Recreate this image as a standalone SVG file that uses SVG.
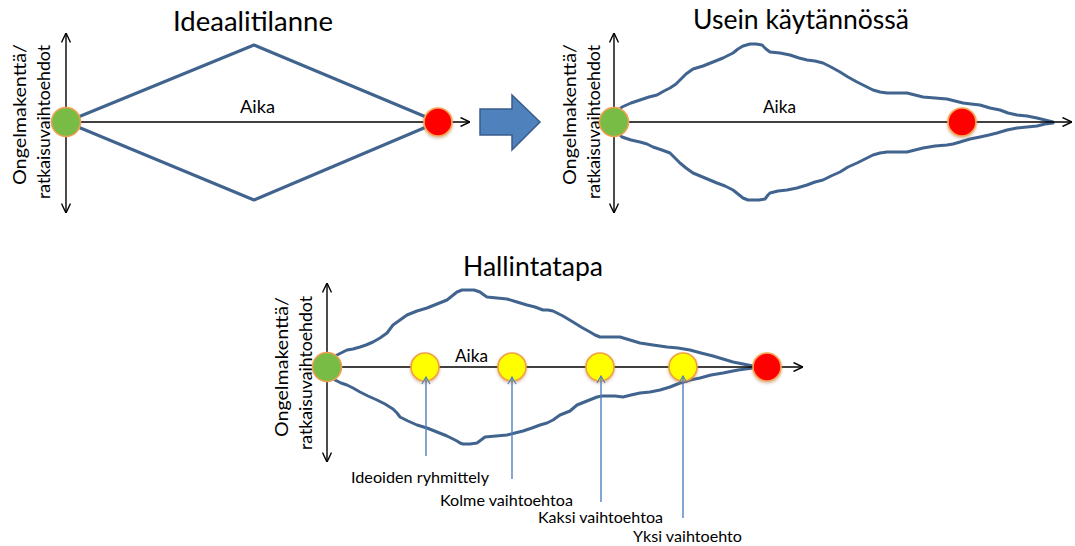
<svg xmlns="http://www.w3.org/2000/svg" width="1075" height="546" viewBox="0 0 1075 546">
  <defs>
    <style>
      text { font-family: Lato, "Open Sans", "Liberation Sans", sans-serif; fill: #000; }
      .title { font-size: 26px; }
      .aika { font-size: 17px; }
      .yaxis { font-size: 18px; }
      .lbl { font-size: 16px; }
      .axis { stroke: #000; stroke-width: 1.4; fill: none; }
      .funnel { stroke: #41648F; stroke-width: 3; fill: none; stroke-linejoin: round; stroke-linecap: round; }
      .pointer { stroke: #4F81BD; stroke-width: 1.4; fill: none; }
      .start { fill: #78BC45; stroke: #F0A050; stroke-width: 1.6; }
      .goal { fill: #FF0000; stroke: #F5A855; stroke-width: 1.6; filter: url(#soft); }
      .step { fill: #FFFF00; stroke: #F0A040; stroke-width: 1.6; filter: url(#soft); }
    </style>
    <marker id="open" viewBox="0 0 10 10" refX="10" refY="5" markerWidth="10" markerHeight="10" markerUnits="userSpaceOnUse" orient="auto-start-reverse">
      <path d="M0.5,0.5 L10,5 L0.5,9.5" fill="none" stroke="#000" stroke-width="1.4"/>
    </marker>
    <marker id="openBlue" viewBox="0 0 10 10" refX="5" refY="0.8" markerWidth="11" markerHeight="9" markerUnits="userSpaceOnUse" orient="0">
      <path d="M0.5,8.5 L5,0.8 L9.5,8.5" fill="none" stroke="#4F81BD" stroke-width="1.3"/>
    </marker>
    <filter id="soft" x="-40%" y="-40%" width="180%" height="180%">
      <feDropShadow dx="0" dy="1.5" stdDeviation="1.4" flood-color="#A06030" flood-opacity="0.45"/>
    </filter>
  </defs>

  <!-- Titles -->
  <text class="title" x="173" y="31" textLength="160" lengthAdjust="spacingAndGlyphs">Ideaalitilanne</text>
  <text class="title" x="693" y="29" textLength="216" lengthAdjust="spacingAndGlyphs">Usein käytännössä</text>
  <text class="title" x="463" y="276" textLength="140" lengthAdjust="spacingAndGlyphs">Hallintatapa</text>

  <!-- Funnel outlines -->
  <g id="funnels">
    <polygon class="funnel" points="66,122 254,45 438,122 254,200"/>
    <polyline class="funnel" points="618,111 622,107 631,103 640,100 649,97 657,95 664,91 670,88 676,84 680,80 686,74 693,69 703,66 713,62 723,58 733,53 738,49 743,46 750,44 756,44 762,45 766,49 770,52 780,53 790,55 799,58 807,60 815,61 823,63 831,67 840,72 848,77 857,82 865,86 873,90 880,92 887,93 897,93 907,93 915,95 923,97 935,98 947,99 955,101 963,103 971,104 980,105 990,108 1000,110 1008,113 1017,115 1027,116 1037,118 1045,120 1053,122"/>
    <polyline class="funnel" points="618,133 622,137 631,140 640,142 647,144 653,147 662,150 670,153 675,158 680,163 686,168 693,173 705,178 717,183 725,186 733,190 738,194 743,198 748,200 753,200 759,200 765,199 768,195 770,193 778,191 787,190 797,188 807,185 815,182 823,180 831,176 840,172 848,167 857,163 865,159 873,155 880,153 887,152 897,152 907,152 915,150 923,148 935,146 947,145 953,144 960,142 970,139 980,137 989,135 997,133 1007,130 1017,128 1027,127 1037,126 1045,124 1053,123"/>
    <polyline class="funnel" points="331,360 335,356 341,353 347,350 353,349 360,347 366,345 373,342 380,338 387,333 390,329 393,325 400,320 407,315 417,311 427,308 437,304 447,300 452,296 457,292 462,290 467,290 474,290 480,292 484,295 487,297 497,298 507,299 517,302 527,305 535,307 543,310 548,310 553,311 563,316 573,322 581,327 590,332 595,335 600,337 610,337 620,337 630,340 640,343 653,345 667,347 678,348 690,350 701,353 713,356 723,359 733,362 743,364 753,366"/>
    <polyline class="funnel" points="331,376 335,380 341,383 347,385 353,388 360,392 368,396 377,400 385,404 393,409 397,413 400,417 408,421 417,425 427,428 437,432 447,436 457,441 460,443 463,444 470,444 477,443 481,440 485,437 496,436 507,435 515,433 523,431 532,428 540,425 547,423 553,420 560,415 570,411 577,405 587,401 597,397 602,396 607,396 615,396 623,397 631,395 640,393 650,392 660,390 670,387 680,383 690,380 700,378 711,375 723,373 738,370 753,368"/>
  </g>

  <!-- Axes, block arrow and pointer lines -->
  <g id="connectors">
    <line class="axis" x1="66" y1="122" x2="470" y2="122" marker-end="url(#open)"/>
    <line class="axis" x1="66" y1="33" x2="66" y2="213" marker-start="url(#open)" marker-end="url(#open)"/>
    <line class="axis" x1="614" y1="122" x2="1072" y2="122" marker-end="url(#open)"/>
    <line class="axis" x1="614" y1="33" x2="614" y2="213" marker-start="url(#open)" marker-end="url(#open)"/>
    <line class="axis" x1="327" y1="367" x2="803" y2="367" marker-end="url(#open)"/>
    <line class="axis" x1="327" y1="283" x2="327" y2="462" marker-start="url(#open)" marker-end="url(#open)"/>
    <polygon id="transition" points="480,109 512,109 512,95 540,122 512,150 512,135 480,135" fill="#4F81BD" stroke="#385D8A" stroke-width="1.5" stroke-linejoin="miter"/>
  </g>

  <!-- Axis captions -->
  <g id="captions">
    <text class="aika" x="240" y="113" textLength="35" lengthAdjust="spacingAndGlyphs">Aika</text>
    <text class="aika" x="763" y="113" textLength="33" lengthAdjust="spacingAndGlyphs">Aika</text>
    <text class="aika" x="455" y="362" textLength="33" lengthAdjust="spacingAndGlyphs">Aika</text>
    <text class="yaxis" transform="translate(26,185) rotate(-90)" textLength="141" lengthAdjust="spacingAndGlyphs">Ongelmakenttä/</text>
    <text class="yaxis" transform="translate(50,199) rotate(-90)" textLength="154" lengthAdjust="spacingAndGlyphs">ratkaisuvaihtoehdot</text>
    <text class="yaxis" transform="translate(576,185) rotate(-90)" textLength="141" lengthAdjust="spacingAndGlyphs">Ongelmakenttä/</text>
    <text class="yaxis" transform="translate(600,199) rotate(-90)" textLength="154" lengthAdjust="spacingAndGlyphs">ratkaisuvaihtoehdot</text>
    <text class="yaxis" transform="translate(288,437) rotate(-90)" textLength="140" lengthAdjust="spacingAndGlyphs">Ongelmakenttä/</text>
    <text class="yaxis" transform="translate(312,450) rotate(-90)" textLength="154" lengthAdjust="spacingAndGlyphs">ratkaisuvaihtoehdot</text>
  </g>

  <!-- Start and end points -->
  <g id="ideal-start"><circle class="start" cx="66" cy="122" r="14.5"/></g>
  <g id="ideal-end"><circle class="goal" cx="438" cy="122" r="14"/></g>
  <g id="practice-start"><circle class="start" cx="614" cy="122" r="14.5"/></g>
  <g id="practice-end"><circle class="goal" cx="962" cy="122" r="14"/></g>
  <g id="managed-start"><circle class="start" cx="327" cy="367" r="14.5"/></g>
  <g id="managed-end"><circle class="goal" cx="767" cy="367" r="14"/></g>

  <!-- Intermediate milestones with their pointers and labels -->
  <g id="step-grouping">
    <circle class="step" cx="425" cy="367" r="14"/>
    <line class="pointer" x1="426" y1="456" x2="426" y2="377" marker-end="url(#openBlue)"/>
    <text class="lbl" x="351" y="483" textLength="138" lengthAdjust="spacingAndGlyphs">Ideoiden ryhmittely</text>
  </g>
  <g id="step-three">
    <circle class="step" cx="512" cy="367" r="14"/>
    <line class="pointer" x1="512" y1="479" x2="512" y2="377" marker-end="url(#openBlue)"/>
    <text class="lbl" x="440" y="506" textLength="133" lengthAdjust="spacingAndGlyphs">Kolme vaihtoehtoa</text>
  </g>
  <g id="step-two">
    <circle class="step" cx="600" cy="367" r="14"/>
    <line class="pointer" x1="601" y1="502" x2="601" y2="376" marker-end="url(#openBlue)"/>
    <text class="lbl" x="538" y="523" textLength="125" lengthAdjust="spacingAndGlyphs">Kaksi vaihtoehtoa</text>
  </g>
  <g id="step-one">
    <circle class="step" cx="683" cy="367" r="14"/>
    <line class="pointer" x1="683" y1="518" x2="683" y2="376" marker-end="url(#openBlue)"/>
    <text class="lbl" x="633" y="542" textLength="109" lengthAdjust="spacingAndGlyphs">Yksi vaihtoehto</text>
  </g>
</svg>
